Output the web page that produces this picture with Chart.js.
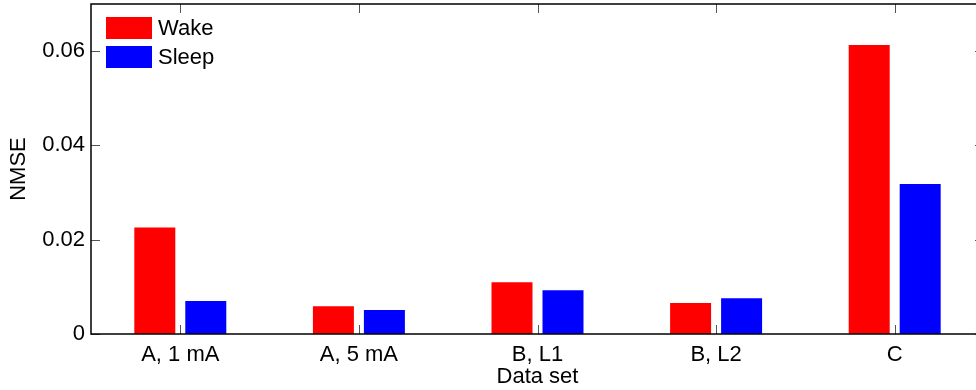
<!DOCTYPE html>
<html>
<head>
<meta charset="utf-8">
<title>NMSE by data set</title>
<script src="https://cdn.jsdelivr.net/npm/chart.js@4/dist/chart.umd.min.js"></script>
<style>
  html, body { margin: 0; padding: 0; overflow: hidden; background: #fff; }
  #wrap { width: 990px; height: 390px; position: relative; }
</style>
</head>
<body>
<div id="wrap"><canvas id="nmseChart"></canvas></div>
<script>
// Data sets and NMSE per condition
const dataSets = ['A, 1 mA', 'A, 5 mA', 'B, L1', 'B, L2', 'C'];
const wakeNmse = [0.0226, 0.0059, 0.0110, 0.0066, 0.0613];
const sleepNmse = [0.0070, 0.0051, 0.0093, 0.0076, 0.0318];
const yTicks = [0, 0.02, 0.04, 0.06];

const FONT = "'Liberation Sans', Helvetica, Arial, sans-serif";
Chart.defaults.font.family = FONT;
Chart.defaults.font.size = 22;
Chart.defaults.color = '#000';

// Draws the axes box, inward tick marks and the legend in the upper left corner
const framePlugin = {
  id: 'frame',
  afterDatasetsDraw(chart) {
    const { ctx, chartArea: a, scales: { x, y } } = chart;
    ctx.save();

    ctx.strokeStyle = '#555';
    ctx.lineWidth = 1;
    ctx.beginPath();
    dataSets.forEach((_, i) => {
      const px = Math.round(x.getPixelForValue(i)) + 0.5;
      ctx.moveTo(px, a.bottom);
      ctx.lineTo(px, a.bottom - 9);
      ctx.moveTo(px, a.top);
      ctx.lineTo(px, a.top + 9);
    });
    yTicks.forEach((v) => {
      const py = Math.round(y.getPixelForValue(v)) + 0.5;
      ctx.moveTo(a.left, py);
      ctx.lineTo(a.left + 9, py);
      ctx.moveTo(a.right, py);
      ctx.lineTo(a.right - 9, py);
    });
    ctx.stroke();

    ctx.strokeStyle = '#000';
    ctx.lineWidth = 1.5;
    ctx.strokeRect(a.left, a.top, a.width, a.height);

    // legend
    ctx.font = '22px ' + FONT;
    ctx.textBaseline = 'middle';
    ctx.textAlign = 'left';
    chart.data.datasets.forEach((ds, i) => {
      const bx = a.left + 15;
      const by = a.top + 13 + i * 29;
      ctx.fillStyle = ds.backgroundColor;
      ctx.fillRect(bx, by, 46, 22);
      ctx.fillStyle = '#000';
      ctx.fillText(ds.label, bx + 52, by + 12);
    });
    ctx.restore();
  }
};

new Chart(document.getElementById('nmseChart'), {
  type: 'bar',
  data: {
    labels: dataSets,
    datasets: [
      { label: 'Wake', data: wakeNmse, backgroundColor: '#ff0000', borderWidth: 0 },
      { label: 'Sleep', data: sleepNmse, backgroundColor: '#0000ff', borderWidth: 0 }
    ]
  },
  options: {
    responsive: true,
    maintainAspectRatio: false,
    animation: false,
    categoryPercentage: 0.571,
    barPercentage: 0.804,
    layout: { padding: { left: 0, top: 4, right: 6, bottom: 0 } },
    plugins: {
      legend: { display: false },
      tooltip: { enabled: false }
    },
    scales: {
      x: {
        grid: { display: false, drawTicks: false },
        border: { display: false },
        ticks: { padding: 8, maxRotation: 0, autoSkip: false },
        title: { display: true, text: 'Data set', padding: { top: 0, bottom: 0 } },
        afterFit(scale) {
          scale.height = 56;
          scale.paddingLeft = 0;
          scale.paddingRight = 0;
        }
      },
      y: {
        min: 0,
        max: 0.07,
        grid: { display: false, drawTicks: false },
        border: { display: false },
        ticks: {
          padding: 6,
          callback: (v) => (v === 0 ? '0' : v.toFixed(2))
        },
        afterBuildTicks(scale) { scale.ticks = yTicks.map((v) => ({ value: v })); },
        title: { display: true, text: 'NMSE', padding: { top: 6, bottom: 0 } },
        afterFit(scale) {
          scale.width = 91;
          scale.paddingTop = 0;
          scale.paddingBottom = 0;
        }
      }
    }
  },
  plugins: [framePlugin]
});
</script>
</body>
</html>
